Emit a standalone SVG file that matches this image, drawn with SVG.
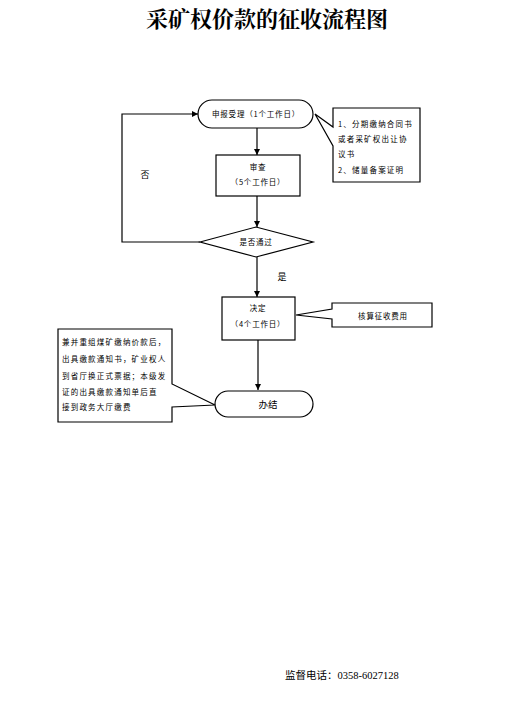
<svg xmlns="http://www.w3.org/2000/svg" width="530" height="704" viewBox="0 0 530 704">
<defs>
<marker id="arr" viewBox="0 0 10 10" refX="10" refY="5" markerWidth="6" markerHeight="6" orient="auto" markerUnits="userSpaceOnUse">
<path d="M0,0 L10,5 L0,10 z" fill="#000"/>
</marker>
<style>
.s{fill:#fff;stroke:#000;stroke-width:1.2}
.c{fill:none;stroke:#000;stroke-width:1.2}
.t{font-family:"Noto Sans CJK SC","Liberation Sans",sans-serif;font-size:7.5px;fill:#000;text-anchor:middle;letter-spacing:0.8px}
.l{font-family:"Noto Sans CJK SC","Liberation Sans",sans-serif;font-size:7.5px;fill:#000;letter-spacing:1.2px}
</style>
</defs>
<rect width="530" height="704" fill="#fff"/>
<text x="267" y="27" font-family="'Liberation Serif','Noto Serif CJK SC','Noto Sans CJK SC',serif" font-size="22" font-weight="bold" text-anchor="middle">采矿权价款的征收流程图</text>

<g id="connectors">
<line class="c" x1="257" y1="128" x2="257" y2="155" marker-end="url(#arr)"/>
<line class="c" x1="257" y1="196" x2="257" y2="227" marker-end="url(#arr)"/>
<line class="c" x1="257" y1="257" x2="257" y2="297" marker-end="url(#arr)"/>
<line class="c" x1="258" y1="340" x2="258" y2="390" marker-end="url(#arr)"/>
<polyline class="c" points="200,242 122,242 122,114 198,114" marker-end="url(#arr)"/>
</g>

<g id="start">
<rect class="s" x="198" y="100" width="115" height="28" rx="14" ry="14"/>
<text class="t" x="256" y="117">申报受理（1个工作日）</text>
</g>

<g id="note1">
<path class="s" d="M333,108 L420,108 L420,182 L333,182 L333,146 L315,114 L333,127 Z"/>
<text class="l" x="338" y="127">1、分期缴纳合同书</text>
<text class="l" x="338" y="142">或者采矿权出让协</text>
<text class="l" x="338" y="157">议书</text>
<text class="l" x="338" y="173">2、储量备案证明</text>
</g>

<g id="review">
<rect class="s" x="216" y="155" width="84" height="41"/>
<text class="t" x="258" y="170">审查</text>
<text class="t" x="258" y="185">（5个工作日）</text>
</g>

<g id="decision">
<polygon class="s" points="200,242 256,227 313,242 256,257"/>
<text class="t" x="256" y="245">是否通过</text>
</g>

<text x="145" y="178" font-family="'Noto Sans CJK SC',sans-serif" font-size="9" text-anchor="middle">否</text>
<text x="282" y="280" font-family="'Noto Sans CJK SC',sans-serif" font-size="9" text-anchor="middle">是</text>

<g id="decide">
<rect class="s" x="222" y="297" width="73" height="43"/>
<text class="t" x="258" y="311">决定</text>
<text class="t" x="258" y="327">（4个工作日）</text>
</g>

<g id="note2">
<path class="s" d="M332,303 L432,303 L432,327 L332,327 L332,319 L296,315 L332,309 Z"/>
<text class="t" x="383" y="319">核算征收费用</text>
</g>

<g id="end">
<rect class="s" x="215" y="391" width="98" height="26" rx="13" ry="13"/>
<text x="268" y="408" font-family="'Noto Sans CJK SC',sans-serif" font-size="9.5" text-anchor="middle">办结</text>
</g>

<g id="note3">
<path class="s" d="M58,329 L172,329 L172,384 L215,405 L172,407 L172,422 L58,422 Z"/>
<text class="l" x="62" y="345">兼并重组煤矿缴纳价款后，</text>
<text class="l" x="62" y="362">出具缴款通知书，矿业权人</text>
<text class="l" x="62" y="379">到省厅换正式票据；本级发</text>
<text class="l" x="62" y="395">证的出具缴款通知单后直</text>
<text class="l" x="62" y="410">接到政务大厅缴费</text>
</g>

<text x="285" y="679" font-family="'Liberation Serif','Noto Sans CJK SC',serif" font-size="10.5">监督电话：0358-6027128</text>
</svg>
